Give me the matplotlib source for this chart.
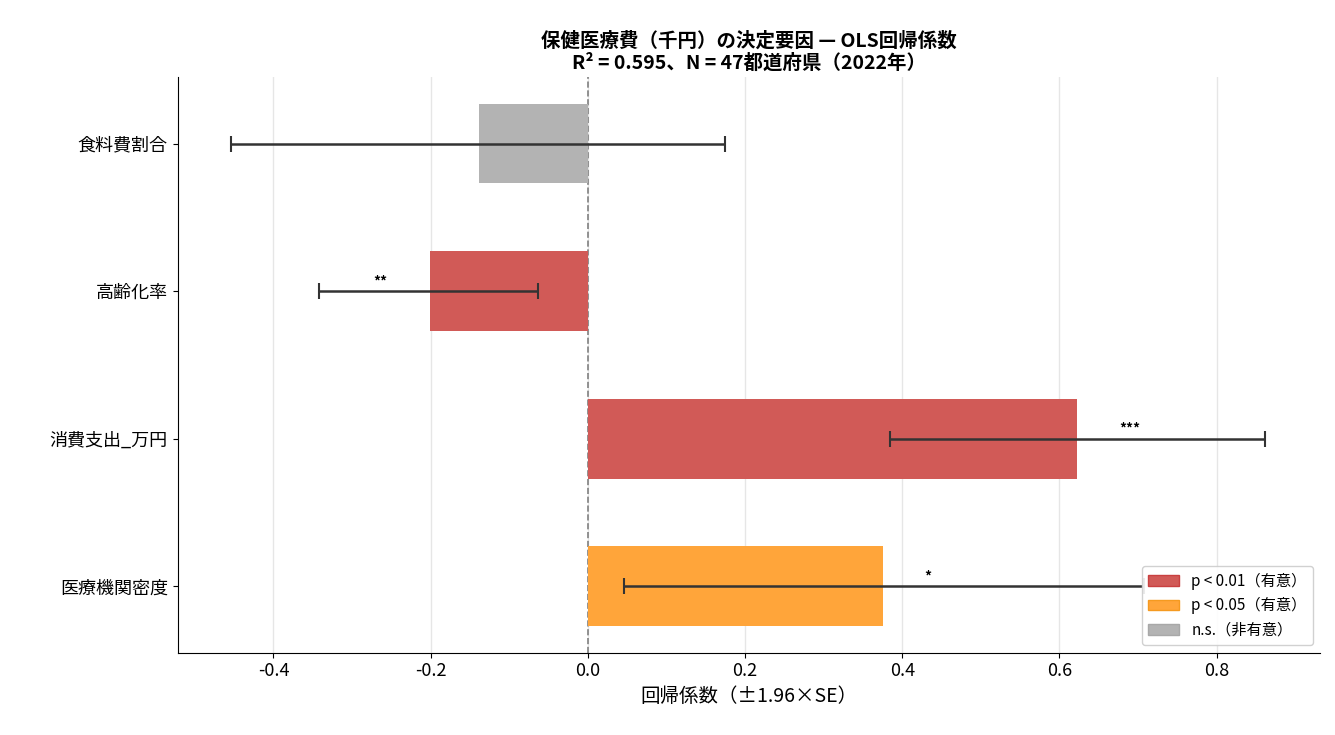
import matplotlib
matplotlib.use("Agg")
import matplotlib.pyplot as plt
from matplotlib.patches import Patch

plt.rcParams['font.family'] = ['Noto Sans CJK JP', 'DejaVu Sans']

labels = ['食料費割合', '高齢化率', '消費支出_万円', '医療機関密度']
coef = [-0.139, -0.201, 0.623, 0.375]
ci_low = [-0.454, -0.342, 0.384, 0.046]
ci_high = [0.174, -0.064, 0.862, 0.708]
sig = ['n.s.', 'p01', 'p01', 'p05']
stars = ['', '**', '***', '*']
star_x = [0, -0.264, 0.69, 0.433]

cmap = {'p01': '#d15a57', 'p05': '#ffa53a', 'n.s.': '#b3b3b3'}
edge = {'p01': '#c94040', 'p05': '#f59a20', 'n.s.': '#a8a8a8'}

fig, ax = plt.subplots(figsize=(13.35, 7.35), dpi=100)
fig.subplots_adjust(left=0.133, right=0.989, top=0.895, bottom=0.112)
y = list(range(len(labels)))
ax.barh(y, coef, height=0.54, color=[cmap[s] for s in sig], zorder=2)
xerr_l = [c - l for c, l in zip(coef, ci_low)]
xerr_h = [h - c for c, h in zip(coef, ci_high)]
ax.errorbar(coef, y, xerr=[xerr_l, xerr_h], fmt='none', ecolor='#333333',
            elinewidth=1.8, capsize=6, capthick=1.5, zorder=3)
for yi, s, sx in zip(y, stars, star_x):
    if s:
        ax.text(sx, yi - 0.02, s, ha='center', va='bottom', fontsize=10, fontweight='bold')
ax.axvline(0, color='gray', linestyle='--', linewidth=1.2, zorder=1)
ax.set_yticks(y)
ax.set_yticklabels(labels, fontsize=13)
ax.set_ylim(3.45, -0.45)
ax.set_xlim(-0.522, 0.932)
ax.set_xticks([-0.4, -0.2, 0.0, 0.2, 0.4, 0.6, 0.8])
ax.set_xticklabels(['-0.4', '-0.2', '0.0', '0.2', '0.4', '0.6', '0.8'], fontsize=13)
ax.grid(axis='x', color='#e6e6e6', linewidth=1, zorder=0)
ax.set_axisbelow(True)
for sp in ['top', 'right']:
    ax.spines[sp].set_visible(False)
ax.set_xlabel('回帰係数（±1.96×SE）', fontsize=14)
ax.set_title('保健医療費（千円）の決定要因 — OLS回帰係数\nR² = 0.595、N = 47都道府県（2022年）',
             fontsize=14, fontweight='bold', linespacing=1.2)
handles = [Patch(facecolor=cmap['p01'], edgecolor=edge['p01'], label='p < 0.01（有意）'),
           Patch(facecolor=cmap['p05'], edgecolor=edge['p05'], label='p < 0.05（有意）'),
           Patch(facecolor=cmap['n.s.'], edgecolor=edge['n.s.'], label='n.s.（非有意）')]
ax.legend(handles=handles, loc='lower right', fontsize=11, framealpha=0.9)
fig.savefig('out.png', dpi=100)
